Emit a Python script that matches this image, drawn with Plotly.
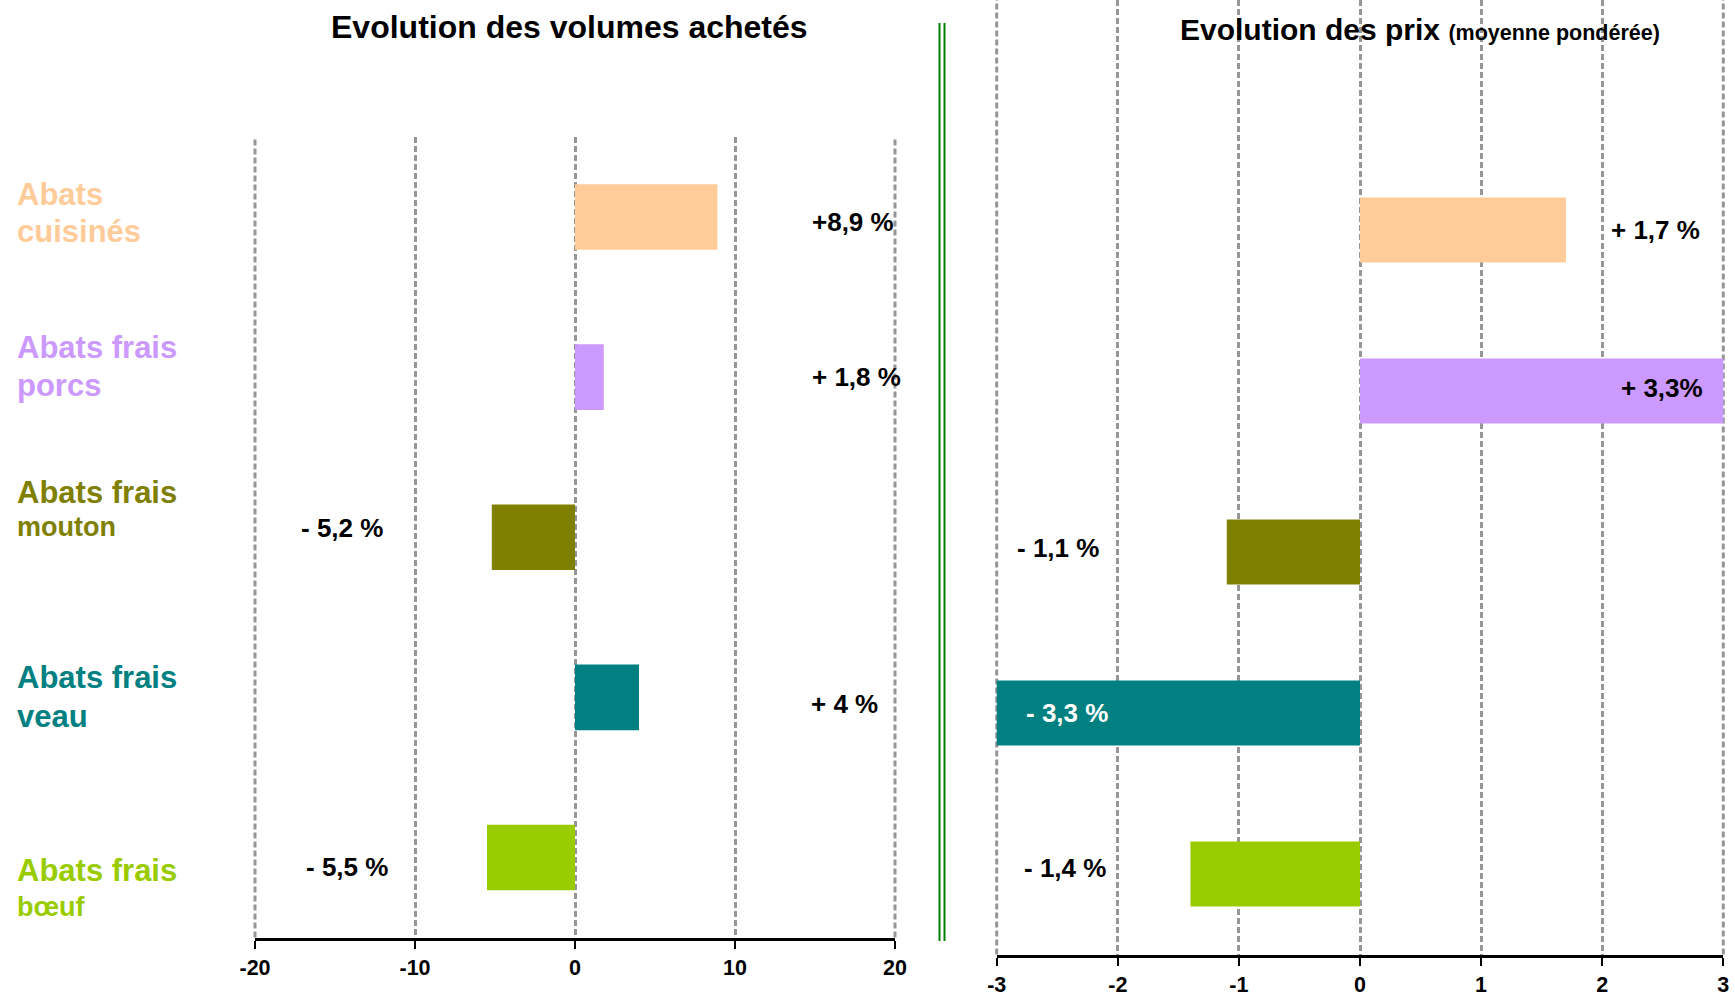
import plotly.graph_objects as go

# ---------------- data ----------------
categories = ["Abats cuisinés", "Abats frais porcs", "Abats frais mouton",
              "Abats frais veau", "Abats frais bœuf"]          # top to bottom
label_line1 = ["Abats", "Abats frais", "Abats frais", "Abats frais", "Abats frais"]
label_line2 = ["cuisinés", "porcs", "mouton", "veau", "bœuf"]
colors = ["#FFCC99", "#CC99FF", "#808000", "#008080", "#99CC00"]

volume_change = [8.9, 1.8, -5.2, 4.0, -5.5]
volume_labels = ["+8,9 %", "+ 1,8 %", "- 5,2 %", "+ 4 %", "- 5,5 %"]
price_change = [1.7, 3.3, -1.1, -3.3, -1.4]
price_labels = ["+ 1,7 %", "+ 3,3%", "- 1,1 %", "- 3,3 %", "- 1,4 %"]

volume_ticks = [-20, -10, 0, 10, 20]
volume_ticktext = ["-20", "-10", "0", "10", "20"]
price_ticks = [-3, -2, -1, 0, 1, 2, 3]
price_ticktext = ["-3", "-2", "-1", "0", "1", "2", "3"]

title_left = "Evolution des volumes achetés"
title_right_main = "Evolution des prix"
title_right_sub = "(moyenne pondérée)"

# ---------------- layout helpers ----------------
W, H = 1735, 998
FONT = "Liberation Sans, Arial, sans-serif"
GRID_COLOR = "#969696"
GRID_DASH = "6px,3px"


def fx(px):
    return px / W


def fy(py):
    return 1 - py / H


cat_order = categories[::-1]  # bottom to top for plotly

fig = go.Figure()
fig.add_trace(go.Bar(x=volume_change, y=categories, orientation="h",
                     marker=dict(color=colors, line=dict(width=0)),
                     width=0.41, xaxis="x", yaxis="y", hoverinfo="skip"))
fig.add_trace(go.Bar(x=price_change, y=categories, orientation="h",
                     marker=dict(color=colors, line=dict(width=0)),
                     width=0.405, xaxis="x2", yaxis="y2", hoverinfo="skip"))

axis_common = dict(showgrid=True, gridcolor=GRID_COLOR, gridwidth=3,
                   griddash=GRID_DASH, zeroline=False, showline=True,
                   linecolor="black", linewidth=3, ticks="outside", ticklen=8,
                   tickwidth=2, tickcolor="black",
                   tickfont=dict(family=FONT, size=21.5, color="black", weight="bold"),
                   ticklabelstandoff=1, fixedrange=True, automargin=False)

left_x_dom = [fx(255), fx(895)]
right_x_dom = [fx(996.7), fx(1723.3)]
left_y_dom = [fy(937.5), fy(137)]
right_y_dom = [fy(954.5), 1]

fig.update_layout(
    width=W, height=H, margin=dict(l=0, r=0, t=0, b=0, pad=0, autoexpand=False),
    paper_bgcolor="white", plot_bgcolor="white", showlegend=False,
    font=dict(family=FONT, color="black"),
    xaxis=dict(domain=left_x_dom, range=[volume_ticks[0], volume_ticks[-1]],
               anchor="y", tickmode="array", tickvals=volume_ticks,
               ticktext=volume_ticktext, **axis_common),
    yaxis=dict(domain=left_y_dom, range=[-0.5, 4.5], anchor="x",
               type="category", categoryorder="array", categoryarray=cat_order,
               showticklabels=False, showgrid=False, zeroline=False, fixedrange=True,
               automargin=False),
    xaxis2=dict(domain=right_x_dom, range=[price_ticks[0], price_ticks[-1]],
                anchor="y2", tickmode="array", tickvals=price_ticks,
                ticktext=price_ticktext, **axis_common),
    yaxis2=dict(domain=right_y_dom, range=[-0.5, -0.5 + 954.5 / 161], anchor="x2",
                type="category", categoryorder="array", categoryarray=cat_order,
                showticklabels=False, showgrid=False, zeroline=False, fixedrange=True,
                automargin=False),
)

ann = []
# titles
ann.append(dict(text=title_left, x=fx(569), y=fy(27), xref="paper", yref="paper",
                xanchor="center", yanchor="middle", showarrow=False,
                font=dict(family=FONT, size=32, color="black", weight="bold")))
ann.append(dict(text=title_right_main + " <span style='font-size:21.5px'>" + title_right_sub + "</span>",
                x=fx(1178), y=fy(29.5), xref="paper", yref="paper",
                xanchor="left", yanchor="middle", showarrow=False,
                font=dict(family=FONT, size=30, color="black", weight="bold")))

# category labels (two lines each)
line1_mid = [194.3, 347.3, 492.3, 677.3, 870.3]
line2_mid = [231.3, 385.3, 526.6, 716.3, 906.6]
line2_size = [31, 31, 27, 31, 27]
for i in range(len(categories)):
    ann.append(dict(text=label_line1[i], x=fx(15), y=fy(line1_mid[i]), xref="paper",
                    yref="paper", xanchor="left", yanchor="middle", showarrow=False,
                    font=dict(family=FONT, size=31, color=colors[i], weight="bold")))
    ann.append(dict(text=label_line2[i], x=fx(15), y=fy(line2_mid[i]), xref="paper",
                    yref="paper", xanchor="left", yanchor="middle", showarrow=False,
                    font=dict(family=FONT, size=line2_size[i], color=colors[i], weight="bold")))

# value labels
vol_lab_x = [810, 810, 299, 809, 304]
vol_lab_y = [222, 377, 528, 704, 867]
for i, t in enumerate(volume_labels):
    ann.append(dict(text=t, x=fx(vol_lab_x[i]), y=fy(vol_lab_y[i]), xref="paper",
                    yref="paper", xanchor="left", yanchor="middle", showarrow=False,
                    font=dict(family=FONT, size=26, color="black", weight="bold")))
price_lab_x = [1609, 1619, 1015, 1024, 1022]
price_lab_y = [230, 388, 548, 713, 868]
price_lab_color = ["black", "black", "black", "white", "black"]
for i, t in enumerate(price_labels):
    ann.append(dict(text=t, x=fx(price_lab_x[i]), y=fy(price_lab_y[i]), xref="paper",
                    yref="paper", xanchor="left", yanchor="middle", showarrow=False,
                    font=dict(family=FONT, size=26, color=price_lab_color[i], weight="bold")))

fig.update_layout(annotations=ann)

shapes = []
# gridlines at the two ends of each axis (plotly skips grid lines at range edges);
# drawn on the axis domain edges (= first/last tick) in paper space so they are not clipped
for xd in left_x_dom:
    shapes.append(dict(type="line", xref="paper", yref="paper", x0=xd, x1=xd,
                       y0=left_y_dom[0], y1=left_y_dom[1], layer="below",
                       line=dict(color=GRID_COLOR, width=3, dash=GRID_DASH)))
for xd in right_x_dom:
    shapes.append(dict(type="line", xref="paper", yref="paper", x0=xd, x1=xd,
                       y0=right_y_dom[0], y1=right_y_dom[1], layer="below",
                       line=dict(color=GRID_COLOR, width=3, dash=GRID_DASH)))
# green double separator
for xp in (939.5, 944.5):
    shapes.append(dict(type="line", xref="paper", yref="paper",
                       x0=fx(xp), x1=fx(xp), y0=fy(23), y1=fy(941),
                       line=dict(color="#008000", width=2)))
fig.update_layout(shapes=shapes)

fig.write_html("out.html",
               config={"displayModeBar": False},
               post_script="document.body.style.margin='0';"
                           "document.body.style.padding='0';"
                           "document.body.style.overflow='hidden';")
